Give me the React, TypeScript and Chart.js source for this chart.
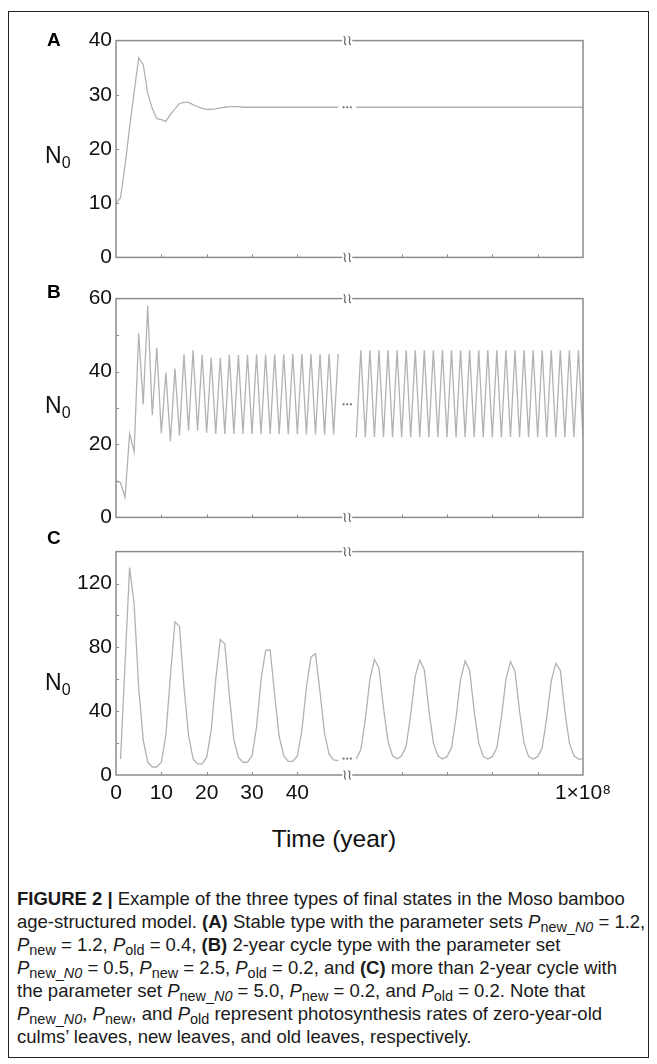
import React, { useEffect, useRef } from "react";
import { Chart, registerables } from "chart.js";

Chart.register(...registerables);

// ---------- data ----------
const yearsLeft = [0, 1, 2, 3, 4, 5, 6, 7, 8, 9, 10, 11, 12, 13, 14, 15, 16, 17, 18, 19, 20, 21, 22, 23, 24, 25, 26, 27, 28, 29, 30, 31, 32, 33, 34, 35, 36, 37, 38, 39, 40, 41, 42, 43, 44, 45, 46, 47, 48, 49];
const yearsLeftC = [1, 2, 3, 4, 5, 6, 7, 8, 9, 10, 11, 12, 13, 14, 15, 16, 17, 18, 19, 20, 21, 22, 23, 24, 25, 26, 27, 28, 29, 30, 31, 32, 33, 34, 35, 36, 37, 38, 39, 40, 41, 42, 43, 44, 45, 46, 47, 48, 49];
const yearsRight = [53, 54, 55, 56, 57, 58, 59, 60, 61, 62, 63, 64, 65, 66, 67, 68, 69, 70, 71, 72, 73, 74, 75, 76, 77, 78, 79, 80, 81, 82, 83, 84, 85, 86, 87, 88, 89, 90, 91, 92, 93, 94, 95, 96, 97, 98, 99, 100, 101, 102, 103];

// Panel A: stable type
const stableLeft = [10, 11, 17, 24, 30.5, 36.8, 35.6, 30.2, 27.5, 25.6, 25.4, 25.1, 26.4, 27.4, 28.4, 28.6, 28.6, 28.2, 27.8, 27.5, 27.3, 27.3, 27.4, 27.6, 27.7, 27.8, 27.8, 27.8, 27.7, 27.7, 27.7, 27.7, 27.7, 27.7, 27.7, 27.7, 27.7, 27.7, 27.7, 27.7, 27.7, 27.7, 27.7, 27.7, 27.7, 27.7, 27.7, 27.7, 27.7, 27.7];
const stableRight = [27.7, 27.7, 27.7, 27.7, 27.7, 27.7, 27.7, 27.7, 27.7, 27.7, 27.7, 27.7, 27.7, 27.7, 27.7, 27.7, 27.7, 27.7, 27.7, 27.7, 27.7, 27.7, 27.7, 27.7, 27.7, 27.7, 27.7, 27.7, 27.7, 27.7, 27.7, 27.7, 27.7, 27.7, 27.7, 27.7, 27.7, 27.7, 27.7, 27.7, 27.7, 27.7, 27.7, 27.7, 27.7, 27.7, 27.7, 27.7, 27.7, 27.7, 27.7];

// Panel B: 2-year cycle
const cycle2Left = [10, 9.5, 5.5, 23, 18, 50.5, 31, 58, 28, 46.5, 23, 39.7, 20.8, 40.8, 22.4, 44.7, 23.8, 45.8, 23.8, 44.6, 23.2, 43.8, 22.9, 43.8, 22.9, 44.5, 22.9, 44.5, 22.9, 44.6, 22.8, 44.7, 22.8, 44.7, 22.8, 44.7, 22.8, 44.7, 22.8, 44.8, 22.8, 44.8, 22.7, 44.8, 22.7, 44.8, 22.7, 44.8, 22.7, 44.8];
const cycle2Right = [22, 45.8, 22, 45.8, 22, 45.8, 22, 45.8, 22, 45.8, 22, 45.8, 22, 45.8, 22, 45.8, 22, 45.8, 22, 45.8, 22, 45.8, 22, 45.8, 22, 45.8, 22, 45.8, 22, 45.8, 22, 45.8, 22, 45.8, 22, 45.8, 22, 45.8, 22, 45.8, 22, 45.8, 22, 45.8, 22, 45.8, 22, 45.8, 22, 45.8, 22];

// Panel C: more than 2-year cycle
const multiLeft = [10, 70, 130, 107, 55, 22, 8, 5, 5, 8, 25, 62, 96, 93, 55, 25, 10, 7, 7, 11, 28, 60, 85, 82, 50, 22, 11, 8, 8, 12, 30, 60, 78, 78.5, 50, 24, 12, 8.5, 8.5, 12, 28, 55, 74, 76, 52, 26, 13, 9.5, 9];
const multiRight = [10, 16, 35, 60, 72.5, 67, 42, 21, 12, 10, 12, 18, 38, 62, 72, 66, 41, 20, 12, 10, 11.5, 17, 36, 60, 71.5, 65.5, 40, 20, 11.5, 10, 11.5, 17, 36, 60, 71, 65, 40, 20, 11.5, 10, 11.5, 17, 36, 59, 70, 65.5, 40, 20, 12, 10, 10];

// "..." marks at the axis break
const gapDotYears = [50.2, 51, 51.8];
const gapDotsA = [27.7, 27.7, 27.7];
const gapDotsB = [31, 31, 31];
const gapDotsC = [10.3, 10.3, 10.3];

// axes
const breakYear = 51;
const xMax = 103;
const xTickValues = [0, 10, 20, 30, 40, 63, 73, 83, 93, 103];
const xTickLabels = ["0", "10", "20", "30", "40", "", "", "", "", "1×10⁸"];
const yTicksA = [0, 10, 20, 30, 40];
const yLabelsA = ["0", "10", "20", "30", "40"];
const yTicksB = [0, 10, 20, 30, 40, 50, 60];
const yLabelsB = ["0", "", "20", "", "40", "", "60"];
const yTicksC = [0, 20, 40, 60, 80, 100, 120, 140];
const yLabelsC = ["0", "", "40", "", "80", "", "120", ""];

// ---------- style ----------
const FONT = "'Liberation Sans', Arial, Helvetica, sans-serif";
const LINE_COLOR = "#b2b2b2";
const AXIS_COLOR = "#8c8c8c";
const W = 657;
const PLOT_LEFT = 116;
const PLOT_RIGHT = 583;
const PAD_TOP = 12;

const framePlugin = {
  id: "frame",
  afterDraw(chart: any, _args: any, opts: any) {
    const { ctx, chartArea: a, scales } = chart;
    const xs = scales.x;
    const ys = scales.y;
    ctx.save();
    ctx.strokeStyle = AXIS_COLOR;
    ctx.lineWidth = 1.5;
    ctx.strokeRect(a.left, a.top, a.right - a.left, a.bottom - a.top);
    ctx.lineWidth = 1;
    xTickValues.forEach((v) => {
      if (v === 0 || v === xMax) return;
      const x = Math.round(xs.getPixelForValue(v)) + 0.5;
      ctx.beginPath();
      ctx.moveTo(x, a.bottom);
      ctx.lineTo(x, a.bottom - 3);
      ctx.stroke();
    });
    (opts.yTicks || []).forEach((v: number, i: number, arr: number[]) => {
      if (i === 0 || i === arr.length - 1) return;
      const y = Math.round(ys.getPixelForValue(v)) + 0.5;
      ctx.beginPath();
      ctx.moveTo(a.left, y);
      ctx.lineTo(a.left + 3, y);
      ctx.stroke();
    });
    const bx = xs.getPixelForValue(breakYear);
    [a.top, a.bottom].forEach((y: number) => {
      ctx.fillStyle = "#ffffff";
      ctx.fillRect(bx - 5, y - 2, 10, 4);
      ctx.strokeStyle = "#606060";
      ctx.lineWidth = 1.1;
      [-2.4, 2.4].forEach((dx) => {
        const cx = bx + dx;
        ctx.beginPath();
        ctx.moveTo(cx - 1.2, y - 4.5);
        ctx.bezierCurveTo(cx + 3, y - 1.5, cx - 3, y + 1.5, cx + 1.2, y + 4.5);
        ctx.stroke();
      });
    });
    ctx.restore();
  },
};

type PanelProps = {
  top: number;
  height: number;
  bottomSpace: number;
  xl: number[];
  yl: number[];
  xr: number[];
  yr: number[];
  dots: number[];
  yMax: number;
  yTicks: number[];
  yLabels: string[];
  showX: boolean;
};

function Panel(p: PanelProps) {
  const ref = useRef<HTMLCanvasElement>(null);
  const cw = W;
  const ch = p.height + PAD_TOP + p.bottomSpace;
  useEffect(() => {
    const lineDs = (xs: number[], ys: number[]) => ({
      type: "line" as const,
      data: xs.map((x, i) => ({ x, y: ys[i] })),
      borderColor: LINE_COLOR,
      borderWidth: 1.3,
      pointRadius: 0,
      tension: 0,
      fill: false,
    });
    const chart = new Chart(ref.current as HTMLCanvasElement, {
      type: "line",
      data: {
        datasets: [
          lineDs(p.xl, p.yl) as any,
          lineDs(p.xr, p.yr) as any,
          {
            type: "line",
            data: gapDotYears.map((x, i) => ({ x, y: p.dots[i] })),
            showLine: false,
            pointRadius: 1.1,
            pointBackgroundColor: "#6a6a6a",
            pointBorderWidth: 0,
            borderColor: "#6a6a6a",
          } as any,
        ],
      },
      options: {
        responsive: false,
        animation: false,
        events: [],
        layout: { padding: { top: PAD_TOP, right: W - PLOT_RIGHT, left: 0, bottom: 0 } },
        plugins: {
          legend: { display: false },
          tooltip: { enabled: false },
          frame: { yTicks: p.yTicks },
        } as any,
        scales: {
          x: {
            type: "linear",
            min: 0,
            max: xMax,
            afterBuildTicks: (s: any) => {
              s.ticks = xTickValues.map((v) => ({ value: v }));
            },
            afterFit: (s: any) => {
              s.height = p.bottomSpace;
            },
            grid: { display: false, drawTicks: false },
            border: { display: false },
            ticks: {
              display: p.showX,
              autoSkip: false,
              maxRotation: 0,
              padding: 6,
              color: "#111",
              font: { family: FONT, size: 21 },
              callback: (v: any) => {
                const i = xTickValues.indexOf(Number(v));
                return i >= 0 ? xTickLabels[i] : "";
              },
            },
          },
          y: {
            type: "linear",
            min: 0,
            max: p.yMax,
            afterBuildTicks: (s: any) => {
              s.ticks = p.yTicks.map((v) => ({ value: v }));
            },
            afterFit: (s: any) => {
              s.width = PLOT_LEFT;
            },
            grid: { display: false, drawTicks: false },
            border: { display: false },
            ticks: {
              autoSkip: false,
              padding: 4,
              color: "#111",
              font: { family: FONT, size: 21 },
              callback: (v: any) => {
                const i = p.yTicks.indexOf(Number(v));
                return i >= 0 ? p.yLabels[i] : "";
              },
            },
          },
        },
      },
      plugins: [framePlugin as any],
    });
    return () => chart.destroy();
  }, []);
  return (
    <canvas
      ref={ref}
      width={cw}
      height={ch}
      style={{ position: "absolute", left: 0, top: p.top - PAD_TOP, width: cw, height: ch }}
    />
  );
}

const abs = (left: number, top: number, extra: any = {}) => ({
  position: "absolute" as const,
  left,
  top,
  ...extra,
});

function PanelLetter({ text, y }: { text: string; y: number }) {
  return (
    <div style={abs(47, y - 11, { fontFamily: FONT, fontWeight: 700, fontSize: 19, lineHeight: "22px" })}>{text}</div>
  );
}

function NLabel({ y }: { y: number }) {
  return (
    <div style={abs(45, y - 13, { fontFamily: FONT, fontSize: 23, lineHeight: "26px", color: "#111" })}>
      N<span style={{ fontSize: 16, position: "relative", top: 5 }}>0</span>
    </div>
  );
}

const subStyle = { fontSize: "0.78em", position: "relative" as const, top: "0.3em", fontStyle: "normal" };

function Pv({ s }: { s: "newN0" | "new" | "old" }) {
  return (
    <span>
      <i>P</i>
      <span style={subStyle}>
        {s === "newN0" ? (
          <>
            new_<i>N0</i>
          </>
        ) : (
          s
        )}
      </span>
    </span>
  );
}

const capLines: React.ReactNode[] = [
  <>
    <b>FIGURE 2 |</b> Example of the three types of final states in the Moso bamboo
  </>,
  <>
    age-structured model. <b>(A)</b> Stable type with the parameter sets <Pv s="newN0" /> = 1.2,
  </>,
  <>
    <Pv s="new" /> = 1.2, <Pv s="old" /> = 0.4, <b>(B)</b> 2-year cycle type with the parameter set
  </>,
  <>
    <Pv s="newN0" /> = 0.5, <Pv s="new" /> = 2.5, <Pv s="old" /> = 0.2, and <b>(C)</b> more than 2-year cycle with
  </>,
  <>
    the parameter set <Pv s="newN0" /> = 5.0, <Pv s="new" /> = 0.2, and <Pv s="old" /> = 0.2. Note that
  </>,
  <>
    <Pv s="newN0" />, <Pv s="new" />, and <Pv s="old" /> represent photosynthesis rates of zero-year-old
  </>,
  <>culms’ leaves, new leaves, and old leaves, respectively.</>,
];

export default function App() {
  const A = { top: 36, height: 226 };
  const B = { top: 294, height: 228 };
  const C = { top: 547, height: 228 };
  return (
    <div style={{ position: "absolute", left: 0, top: 0, width: W, height: 1064, background: "#fff", overflow: "hidden" }}>
      <div
        style={abs(8, 11, {
          width: 641,
          height: 1047,
          border: "1px solid #222",
          boxSizing: "border-box",
        })}
      />
      <Panel top={A.top} height={A.height} bottomSpace={12} xl={yearsLeft} yl={stableLeft} xr={yearsRight} yr={stableRight} dots={gapDotsA} yMax={40} yTicks={yTicksA} yLabels={yLabelsA} showX={false} />
      <Panel top={B.top} height={B.height} bottomSpace={12} xl={yearsLeft} yl={cycle2Left} xr={yearsRight} yr={cycle2Right} dots={gapDotsB} yMax={60} yTicks={yTicksB} yLabels={yLabelsB} showX={false} />
      <Panel top={C.top} height={C.height} bottomSpace={40} xl={yearsLeftC} yl={multiLeft} xr={yearsRight} yr={multiRight} dots={gapDotsC} yMax={140} yTicks={yTicksC} yLabels={yLabelsC} showX={true} />

      <PanelLetter text="A" y={40} />
      <PanelLetter text="B" y={292} />
      <PanelLetter text="C" y={538} />
      <NLabel y={155} />
      <NLabel y={405} />
      <NLabel y={682} />

      <div style={abs(0, 824, { width: 668, textAlign: "center", fontFamily: FONT, fontSize: 24.5, lineHeight: "30px", color: "#111" })}>
        Time (year)
      </div>

      <div style={abs(17, 887, { fontFamily: FONT, fontSize: 18.5, color: "#1a1a1a" })}>
        {capLines.map((l, i) => (
          <div key={i} style={{ height: 23, lineHeight: "23px", whiteSpace: "nowrap" }}>
            {l}
          </div>
        ))}
      </div>
    </div>
  );
}
